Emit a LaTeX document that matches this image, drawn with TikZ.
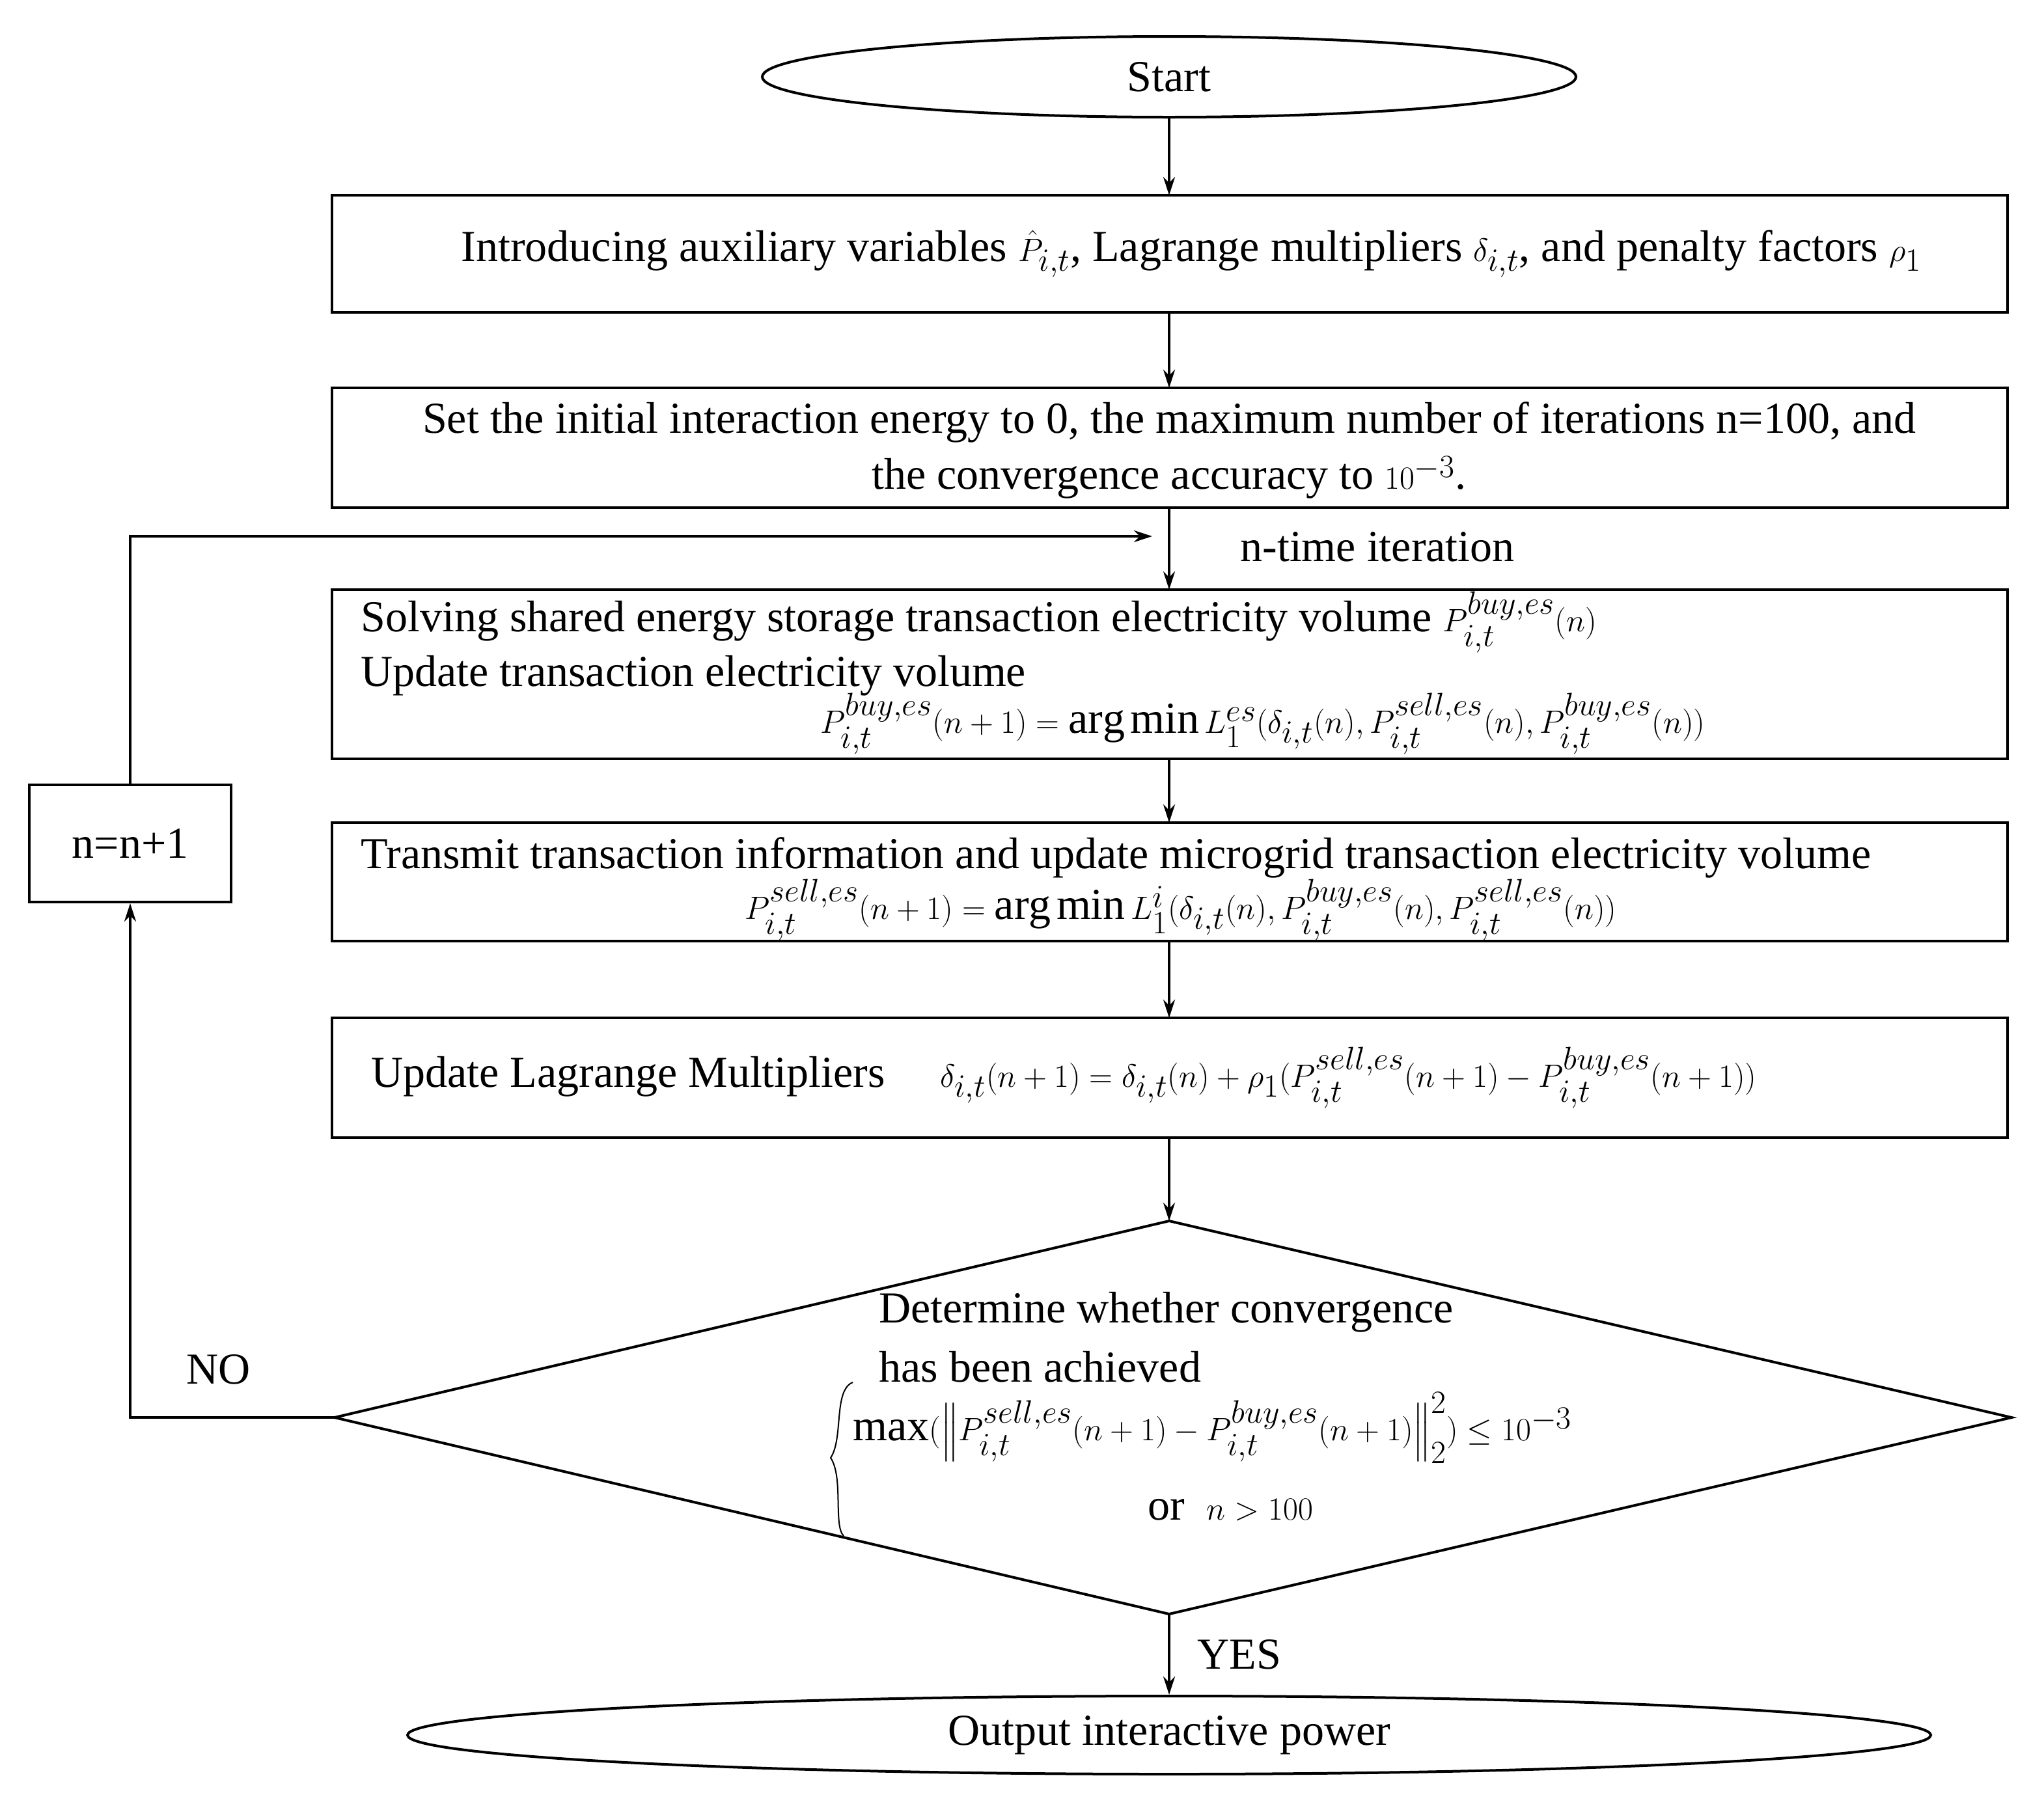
\documentclass[tikz,border=0pt]{standalone}
\usepackage{amsmath}
\usepackage{fontspec}
\setmainfont{Liberation Serif}
\usetikzlibrary{shapes.geometric,arrows.meta}
\begin{document}
\begin{tikzpicture}[x=1pt,y=-1pt,
  every node/.style={font=\fontsize{34}{43}\selectfont, inner sep=0pt},
  box/.style={draw, line width=2pt},
  ln/.style={line width=2pt},
  arr/.style={line width=2pt,-{Stealth[length=14pt,width=9pt]}}]
\useasboundingbox (0,0) rectangle (1570,1387);
\node[box,ellipse,minimum width=625,minimum height=62] (start) at (898,59) {Start};
\draw[box] (255,150) rectangle (1542,240);
\node (b1) at (915,195) {Introducing auxiliary variables $\hat{P}_{i,t}$, Lagrange multipliers $\delta_{i,t}$, and penalty factors $\rho_1$};
\coordinate (b1t) at (898,150); \coordinate (b1b) at (898,240);
\draw[box] (255,298) rectangle (1542,390);
\node[align=center] (b2) at (898,346) {Set the initial interaction energy to 0, the maximum number of iterations n=100, and\\ the convergence accuracy to $10^{-3}$.};
\coordinate (b2t) at (898,298); \coordinate (b2b) at (898,390);
\node (it) at (1058,420) {n-time iteration};
\draw[box] (255,453) rectangle (1542,583);
\coordinate (b3t) at (898,453); \coordinate (b3b) at (898,583);
\node[anchor=west] (b3a) at (277,478) {Solving shared energy storage transaction electricity volume $P_{i,t}^{buy,es}(n)$};
\node[anchor=west] (b3b2) at (277,519) {Update transaction electricity volume};
\node[anchor=west] (b3c) at (630,556) {$P_{i,t}^{buy,es}(n+1)=\arg\min L_1^{es}(\delta_{i,t}(n),P_{i,t}^{sell,es}(n),P_{i,t}^{buy,es}(n))$};
\draw[box] (255,632) rectangle (1542,723);
\coordinate (b4t) at (898,632); \coordinate (b4b) at (898,723);
\node[anchor=west] (b4a) at (277,659) {Transmit transaction information and update microgrid transaction electricity volume};
\node[anchor=west] (b4c) at (572,699) {$P_{i,t}^{sell,es}(n+1)=\arg\min L_1^{i}(\delta_{i,t}(n),P_{i,t}^{buy,es}(n),P_{i,t}^{sell,es}(n))$};
\draw[box] (255,782) rectangle (1542,874);
\coordinate (b5t) at (898,782); \coordinate (b5b) at (898,874);
\node[anchor=west] (b5) at (285,828) {Update Lagrange Multipliers\quad\ $\delta_{i,t}(n+1)=\delta_{i,t}(n)+\rho_1(P^{sell,es}_{i,t}(n+1)-P^{buy,es}_{i,t}(n+1))$};
\draw[box] (898,938) -- (1545,1089) -- (898,1240) -- (257,1089) -- cycle;
\coordinate (dt) at (898,938); \coordinate (db) at (898,1240); \coordinate (dl) at (257,1089);
\node[anchor=west] (d1) at (675,1008) {Determine whether convergence};
\node[anchor=west] (d2) at (675,1050) {has been achieved};
\node[anchor=west] (d3) at (655,1097) {$\max(\left\|P^{sell,es}_{i,t}(n+1)-P^{buy,es}_{i,t}(n+1)\right\|_2^2)\le 10^{-3}$};
\node (d4) at (945,1160) {or\ \ $n>100$};
\draw[line width=1pt] (655,1062) .. controls (640,1068) and (648,1105) .. (638,1120) .. controls (648,1135) and (640,1172) .. (648,1180);
\node[box,ellipse,minimum width=1170,minimum height=60] (out) at (898,1333) {Output interactive power};
\node[box,minimum width=155,minimum height=90] (inc) at (100,648) {n=n+1};
\node (no) at (168,1052) {NO};
\node (yes) at (952,1271) {YES};
\coordinate (lp) at (100,412); \coordinate (lpe) at (885,412); \coordinate (nl) at (100,1089);
\draw[arr] (start) -- (b1t);
\draw[arr] (b1b) -- (b2t);
\draw[arr] (b2b) -- (b3t);
\draw[arr] (b3b) -- (b4t);
\draw[arr] (b4b) -- (b5t);
\draw[arr] (b5b) -- (dt);
\draw[arr] (db) -- (out);
\draw[arr] (dl) -- (nl) -- (inc);
\draw[arr] (inc) -- (lp) -- (lpe);
\end{tikzpicture}
\end{document}
